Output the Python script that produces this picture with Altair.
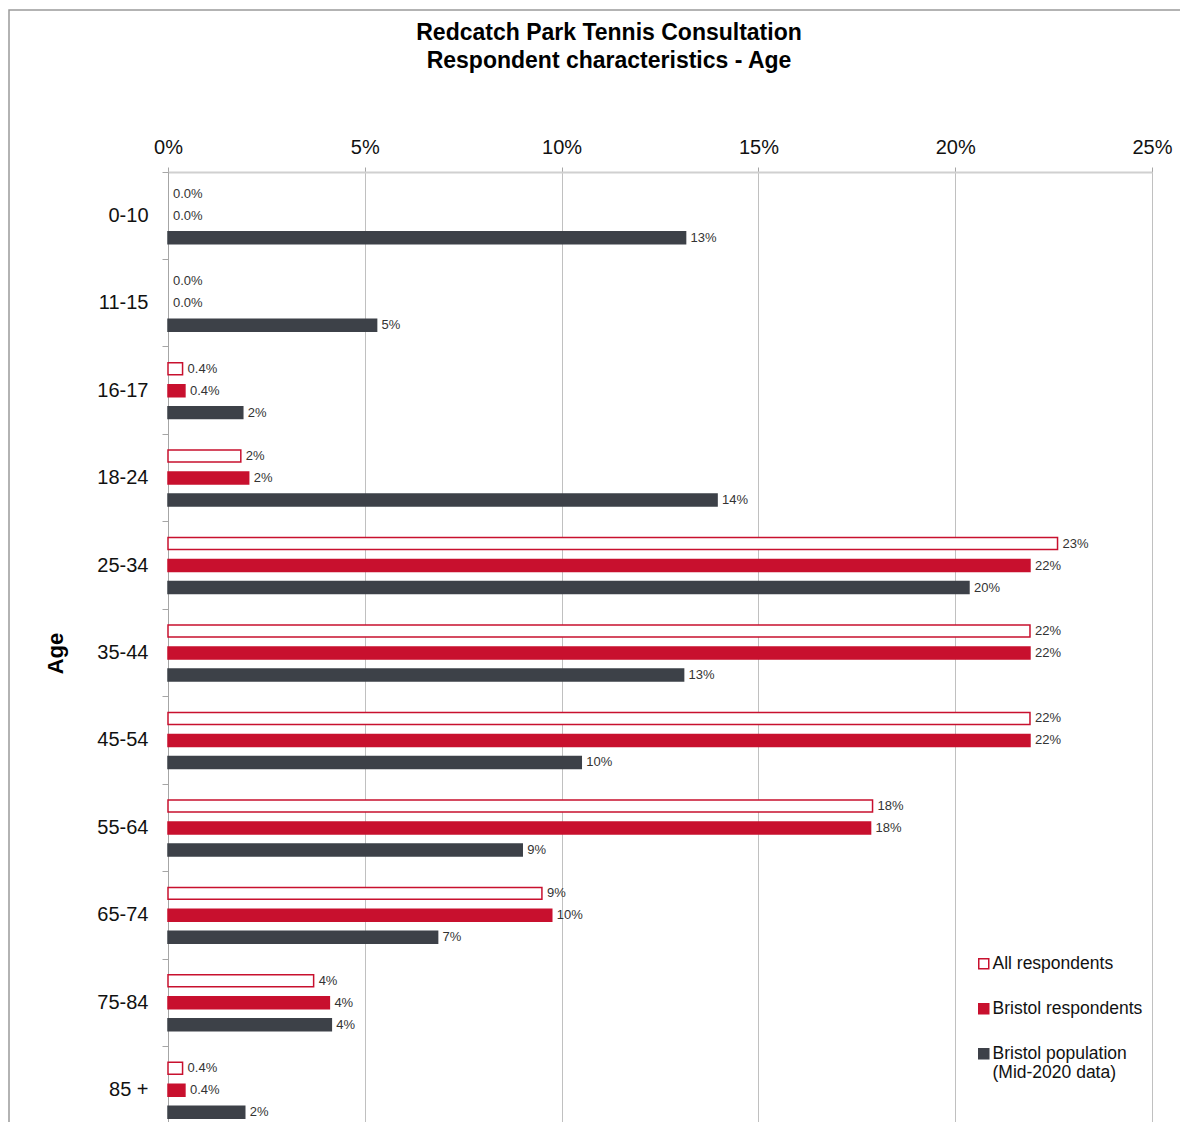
import altair as alt
import pandas as pd

ages = ["0-10", "11-15", "16-17", "18-24", "25-34", "35-44", "45-54", "55-64", "65-74", "75-84", "85 +"]
series = ["All respondents", "Bristol respondents", "Bristol population (Mid-2020 data)"]

all_vals = [0.0, 0.0, 0.37, 1.85, 22.6, 21.9, 21.9, 17.9, 9.5, 3.7, 0.37]
bristol_vals = [0.0, 0.0, 0.43, 2.05, 21.9, 21.9, 21.9, 17.85, 9.75, 4.1, 0.43]
pop_vals = [13.15, 5.3, 1.9, 13.95, 20.35, 13.1, 10.5, 9.0, 6.85, 4.15, 1.95]

all_labels = ["0.0%", "0.0%", "0.4%", "2%", "23%", "22%", "22%", "18%", "9%", "4%", "0.4%"]
bristol_labels = ["0.0%", "0.0%", "0.4%", "2%", "22%", "22%", "22%", "18%", "10%", "4%", "0.4%"]
pop_labels = ["13%", "5%", "2%", "14%", "20%", "13%", "10%", "9%", "7%", "4%", "2%"]

fill_colors = ["#ffffff", "#c8102e", "#3d4148"]
stroke_colors = ["#c8102e", "#c8102e", "#3d4148"]

rows = []
for i, a in enumerate(ages):
    for s, vals, labs in zip(series, [all_vals, bristol_vals, pop_vals],
                             [all_labels, bristol_labels, pop_labels]):
        rows.append({"age": a, "series": s, "value": vals[i], "label": labs[i]})
df = pd.DataFrame(rows)

FONT = "Liberation Sans"

legend = alt.Legend(
    title=None, orient="none", legendX=807, legendY=783,
    symbolType="square", symbolSize=100, symbolStrokeWidth=1.5,
    labelFont=FONT, labelFontSize=17.5, labelColor="#111111", labelLimit=300,
    labelOffset=0, rowPadding=26,
    labelExpr="datum.label == 'Bristol population (Mid-2020 data)' ? ['Bristol population', '(Mid-2020 data)'] : datum.label",
)

y_enc = alt.Y(
    "age:N", sort=ages,
    scale=alt.Scale(paddingInner=0, paddingOuter=0),
    axis=alt.Axis(
        title="Age", titleFont=FONT, titleFontSize=22, titleFontWeight="bold",
        titleColor="#000000", titlePadding=29,
        labelFont=FONT, labelFontSize=20, labelColor="#111111", labelPadding=14,
        tickSize=6, tickColor="#a6a6a6", bandPosition=0,
        domainColor="#a6a6a6", domainWidth=1, grid=False,
    ),
)
yoff_enc = alt.YOffset(
    "series:N", sort=series,
    scale=alt.Scale(paddingInner=0.4545, paddingOuter=0.716),
)
x_enc = alt.X(
    "value:Q",
    scale=alt.Scale(domain=[0, 25], nice=False),
    axis=alt.Axis(
        orient="top", title=None, values=[0, 5, 10, 15, 20, 25],
        labelExpr="datum.value + '%'", labelFont=FONT, labelFontSize=20,
        labelColor="#111111", labelPadding=10, labelFlush=False,
        tickSize=5, tickColor="#a6a6a6",
        domainColor="#d0d0d0", domainWidth=2,
        grid=True, gridColor="#c0c0c0", gridWidth=1,
    ),
)

base = alt.Chart(df)

bars = base.mark_bar(strokeWidth=1.5).encode(
    x=x_enc,
    y=y_enc,
    yOffset=yoff_enc,
    fill=alt.Fill("series:N", sort=series,
                  scale=alt.Scale(domain=series, range=fill_colors), legend=legend),
    stroke=alt.Stroke("series:N", sort=series,
                      scale=alt.Scale(domain=series, range=stroke_colors), legend=legend),
).transform_filter("datum.value > 0")

texts = base.mark_text(align="left", baseline="middle", dx=5, font=FONT,
                       fontSize=13, color="#333333").encode(
    x="value:Q",
    y=alt.Y("age:N", sort=ages),
    yOffset=alt.YOffset("series:N", sort=series),
    text="label:N",
)

frame = alt.Chart(pd.DataFrame({"f": [0]})).mark_rect(
    filled=False, stroke="#9a9a9a", strokeWidth=1.5
).encode(
    x=alt.value(-159), x2=alt.value(1200), y=alt.value(-162), y2=alt.value(1100)
)

chart = alt.layer(frame, bars, texts).properties(
    width=984, height=962,
    title=alt.TitleParams(
        text=["Redcatch Park Tennis Consultation", "Respondent characteristics - Age"],
        font=FONT, fontSize=23, fontWeight="bold", color="#000000",
        anchor="middle", dx=-51, offset=-87, lineHeight=28, baseline="bottom",
    ),
    autosize=alt.AutoSizeParams(type="none"),
    padding={"left": 160, "top": 164, "right": 28, "bottom": -12},
).configure_view(stroke=None)

chart.save("out.html", embed_options={"renderer": "svg", "actions": False})
